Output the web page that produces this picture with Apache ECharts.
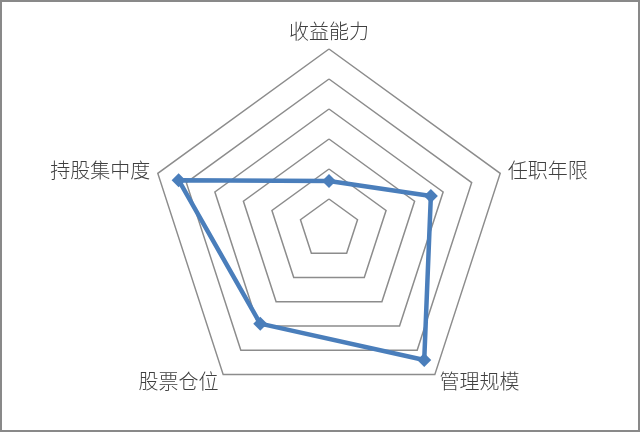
<!DOCTYPE html>
<html>
<head>
<meta charset="UTF-8">
<title>radar</title>
<script src="https://cdn.jsdelivr.net/npm/echarts@6/dist/echarts.min.js"></script>
<style>
	html, body { margin: 0; padding: 0; background: #fff; }
	#wrap { position: relative; width: 640px; height: 432px; }
	#main { width: 640px; height: 432px; }
	#frame { position: absolute; left: 0; top: 0; width: 640px; height: 432px;
		box-sizing: border-box; border: 2px solid #898989; pointer-events: none; }
</style>
</head>
<body>
<div id="wrap">
	<div id="main"></div>
	<div id="frame"></div>
</div>
<script>
// 指标与数值 (ECharts 逆时针排列: 上, 左上, 左下, 右下, 右上)
var indicators = ['收益能力', '持股集中度', '股票仓位', '管理规模', '任职年限'];
var values = [1.6, 5.27, 3.9, 5.4, 3.57];
var axisMax = 6;

var myChart = echarts.init(document.getElementById('main'));

var option = {
	animation: false,
	radar: {
		center: [329, 229],
		radius: 180,
		startAngle: 90,
		splitNumber: 6,
		shape: 'polygon',
		indicator: indicators.map(function (n) {
			return { name: n, min: 0, max: axisMax };
		}),
		axisName: {
			color: '#404040',
			fontSize: 20,
			fontFamily: 'Noto Sans CJK SC',
			fontWeight: 300
		},
		nameGap: 8,
		axisLine: { show: false },
		axisTick: { show: false },
		axisLabel: { show: false },
		splitArea: { show: false },
		splitLine: {
			lineStyle: { color: '#8c8c8c', width: 1.5 }
		}
	},
	series: [{
		type: 'radar',
		symbol: 'diamond',
		symbolSize: 14,
		itemStyle: { color: '#4a7ebb' },
		lineStyle: { color: '#4a7ebb', width: 4.5 },
		data: [{ value: values }]
	}]
};
myChart.setOption(option);
</script>
</body>
</html>
